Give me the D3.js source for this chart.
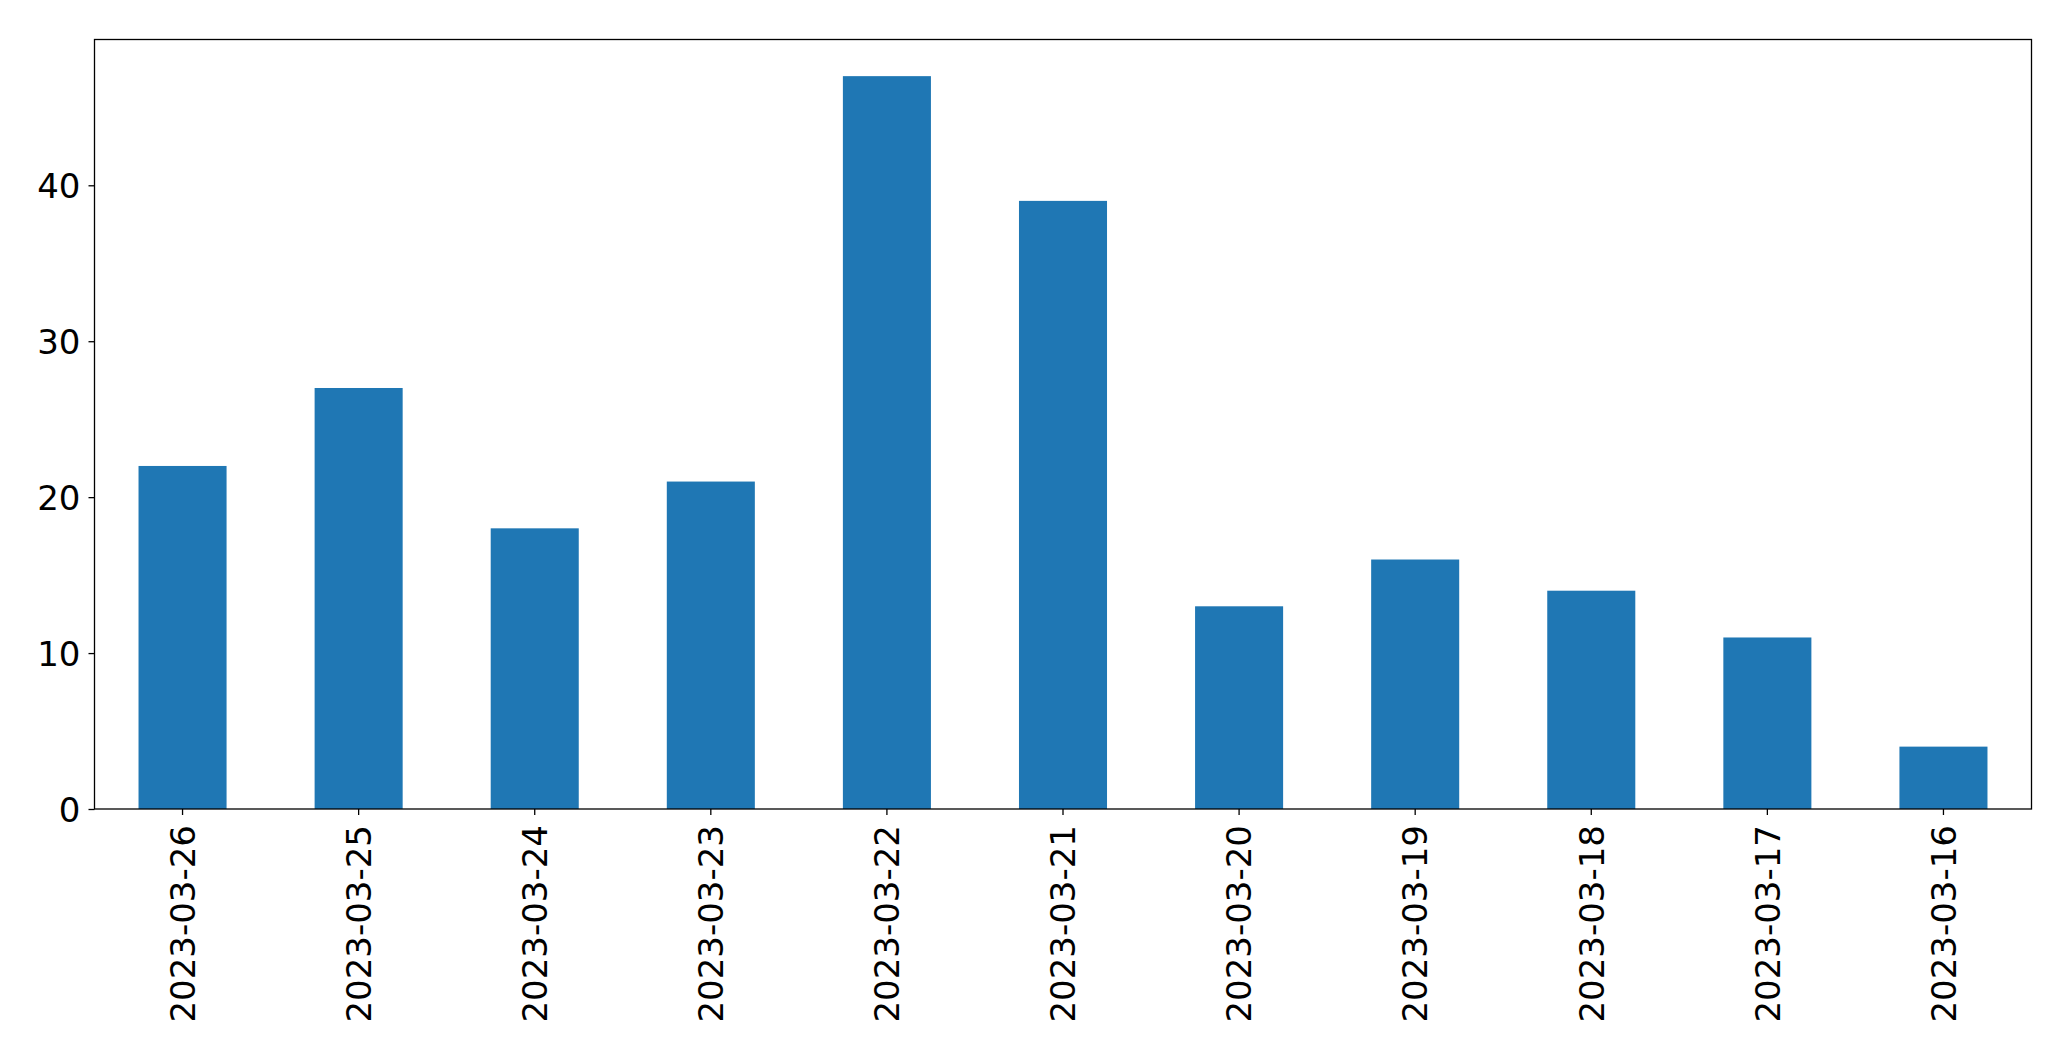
<!DOCTYPE html>
<html>
<head>
<meta charset="utf-8">
<script src="https://cdn.jsdelivr.net/npm/d3@7"></script>
<style>
html, body { margin: 0; padding: 0; background: #fff; }
svg { display: block; }
text { font-family: "DejaVu Sans", sans-serif; }
</style>
</head>
<body>
<script>
const categories = ["2023-03-26","2023-03-25","2023-03-24","2023-03-23","2023-03-22","2023-03-21","2023-03-20","2023-03-19","2023-03-18","2023-03-17","2023-03-16"];
const values = [22, 27, 18, 21, 47, 39, 13, 16, 14, 11, 4];
const yTicks = [0, 10, 20, 30, 40];

const W = 2071, H = 1061;
const m = { left: 94.5, right: W - 2031.5, top: 39.5, bottom: H - 809 };
const iw = W - m.left - m.right, ih = H - m.top - m.bottom;

const svg = d3.select("body").append("svg").attr("width", W).attr("height", H);
const g = svg.append("g").attr("transform", `translate(${m.left},${m.top})`);

const x = d3.scaleBand().domain(categories).range([0, iw]).paddingInner(0.5).paddingOuter(0.25);
const y = d3.scaleLinear().domain([0, d3.max(values) * 1.05]).range([ih, 0]);

g.selectAll("rect.bar").data(values).join("rect")
  .attr("class", "bar")
  .attr("x", (d, i) => x(categories[i]))
  .attr("width", x.bandwidth())
  .attr("y", d => y(d))
  .attr("height", d => ih - y(d))
  .attr("fill", "#1f77b4");

const yAxis = g.append("g").call(d3.axisLeft(y).tickValues(yTicks).tickSize(6).tickPadding(8).tickFormat(d3.format("d")));
const xAxis = g.append("g").attr("transform", `translate(0,${ih})`).call(d3.axisBottom(x).tickSize(6).tickPadding(10));

[xAxis, yAxis].forEach(a => {
  a.select(".domain").remove();
  a.selectAll(".tick line").attr("stroke", "#000").attr("stroke-width", 1.3);
  a.selectAll(".tick text").attr("font-size", 34).attr("fill", "#000").style("font-family", "'DejaVu Sans', sans-serif");
});
yAxis.selectAll(".tick text").attr("dy", "0.36em");
xAxis.selectAll(".tick text")
  .attr("transform", "rotate(-90)")
  .attr("text-anchor", "end")
  .attr("x", -16)
  .attr("y", 0)
  .attr("dy", "0.36em");

g.append("rect").attr("x", 0).attr("y", 0).attr("width", iw).attr("height", ih)
  .attr("fill", "none").attr("stroke", "#000").attr("stroke-width", 1.3);
</script>
</body>
</html>
